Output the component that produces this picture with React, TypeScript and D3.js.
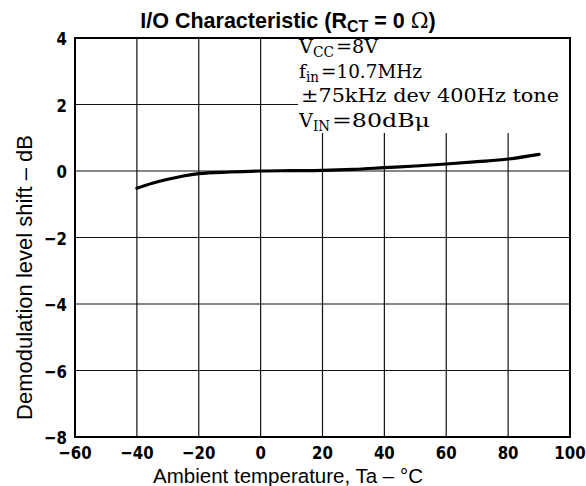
import React from "react";
import * as d3 from "d3";

const xTicks = [-60, -40, -20, 0, 20, 40, 60, 80, 100];
const yTicks = [4, 2, 0, -2, -4, -6, -8];
const curveTemp = [-40, -35, -30, -25, -20, -10, 0, 10, 20, 30, 40, 50, 60, 70, 80, 90];
const curveShift = [-0.52, -0.37, -0.25, -0.15, -0.08, -0.03, 0, 0.01, 0.02, 0.05, 0.1, 0.15, 0.21, 0.28, 0.36, 0.5];

const W = 586, H = 486;
const L = 75, R = 570, T = 38, B = 437;
const serif = "'DejaVu Serif', 'Liberation Serif', serif";
const sans = "'Liberation Sans', Arial, sans-serif";
const tickFont = "'DejaVu Sans', sans-serif";

type Seg = { t: string; x: number; len: number; sub?: boolean };
const Seg = ({ s, base }: { s: Seg; base: number }) => (
  <text x={s.x} y={base + (s.sub ? 4 : 0)} fontFamily={serif} fontSize={s.sub ? 14 : 19}
    textLength={s.len} lengthAdjust="spacingAndGlyphs">{s.t}</text>
);

export default function App() {
  const x = d3.scaleLinear().domain([-60, 100]).range([L, R]);
  const y = d3.scaleLinear().domain([-8, 4]).range([B, T]);
  const pts: [number, number][] = curveTemp.map((t, i) => [t, curveShift[i]]);
  const line = d3.line<[number, number]>().x(d => x(d[0])).y(d => y(d[1])).curve(d3.curveMonotoneX);
  const fmt = (t: number) => (t < 0 ? "\u2212" + Math.abs(t) : String(t));
  const lines: { base: number; segs: Seg[] }[] = [
    { base: 53, segs: [{ t: "V", x: 299, len: 14 }, { t: "CC", x: 313, len: 21, sub: true }, { t: "=8V", x: 336, len: 42 }] },
    { base: 77.5, segs: [{ t: "f", x: 299, len: 7 }, { t: "in", x: 306, len: 13, sub: true }, { t: "=10.7MHz", x: 321, len: 101 }] },
    { base: 102, segs: [{ t: "±75kHz dev 400Hz  tone", x: 301, len: 258 }] },
    { base: 127, segs: [{ t: "V", x: 299, len: 14 }, { t: "IN", x: 313, len: 17, sub: true }, { t: "=80dBμ", x: 332, len: 98 }] },
  ];
  return (
    <svg width={W} height={H} style={{ position: "absolute", left: 0, top: 0, background: "#fff" }}>
      <rect width={W} height={H} fill="#fff" />
      {xTicks.slice(1, -1).map(t => (
        <line key={"gx" + t} x1={x(t)} x2={x(t)} y1={T} y2={B} stroke="#111" strokeWidth={1.2} />
      ))}
      {yTicks.slice(1, -1).map(t => (
        <line key={"gy" + t} x1={L} x2={R} y1={y(t)} y2={y(t)} stroke="#111" strokeWidth={1.2} />
      ))}
      <rect x={298} y={T + 1} width={R - 299} height={94} fill="#fff" />
      <rect x={L} y={T} width={R - L} height={B - T} fill="none" stroke="#000" strokeWidth={2} />
      <path d={line(pts) || ""} fill="none" stroke="#000" strokeWidth={3.2} strokeLinecap="round" />
      {yTicks.map(t => (
        <text key={"ty" + t} transform={`translate(${L - 8},${y(t) + 7}) scale(1,1.2)`} textAnchor="end"
          fontFamily={tickFont} fontWeight="bold" fontSize={15}>{fmt(t)}</text>
      ))}
      {xTicks.map(t => (
        <text key={"tx" + t} transform={`translate(${x(t)},${459}) scale(1,1.2)`} textAnchor="middle"
          fontFamily={tickFont} fontWeight="bold" fontSize={15}>{fmt(t)}</text>
      ))}
      <text x={288} y={28} textAnchor="middle" fontFamily={sans} fontWeight="bold" fontSize={21.5}>
        I/O Characteristic (R<tspan fontSize={16} dy={4}>CT</tspan><tspan dy={-4}> = 0 </tspan><tspan fontFamily={serif} fontWeight="normal">Ω</tspan>)
      </text>
      <g fill="#000">
        {lines.map((ln, i) => (
          <g key={"ann" + i}>{ln.segs.map((s, j) => <Seg key={j} s={s} base={ln.base} />)}</g>
        ))}
      </g>
      <text x={288} y={483} textAnchor="middle" fontFamily={sans} fontSize={20.5}>
        Ambient temperature, Ta – °C
      </text>
      <text transform={`translate(32,${(118 + 437) / 2}) rotate(-90)`} textAnchor="middle" fontFamily={sans} fontSize={22}>
        Demodulation level shift – dB
      </text>
    </svg>
  );
}
